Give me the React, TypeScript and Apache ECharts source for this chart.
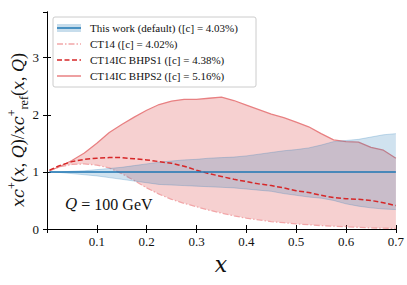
import React, { useEffect, useRef } from "react";
import * as echarts from "echarts";

const xGrid = [0.005, 0.025, 0.05, 0.075, 0.1, 0.125, 0.15, 0.175, 0.2, 0.225, 0.25, 0.275, 0.3, 0.325, 0.35, 0.375, 0.4, 0.425, 0.45, 0.475, 0.5, 0.525, 0.55, 0.575, 0.6, 0.625, 0.65, 0.675, 0.7];

const ct14 = [1.02, 1.09, 1.13, 1.14, 1.12, 1.07, 0.97, 0.85, 0.72, 0.61, 0.52, 0.45, 0.39, 0.33, 0.28, 0.23, 0.19, 0.16, 0.13, 0.11, 0.09, 0.075, 0.06, 0.05, 0.04, 0.03, 0.02, 0.015, 0.01];
const bhps2 = [1.02, 1.09, 1.2, 1.33, 1.5, 1.69, 1.83, 1.96, 2.08, 2.18, 2.24, 2.27, 2.27, 2.29, 2.31, 2.25, 2.17, 2.09, 2.01, 1.95, 1.87, 1.79, 1.67, 1.56, 1.53, 1.52, 1.43, 1.38, 1.24];
const bhps1 = [1.03, 1.11, 1.18, 1.22, 1.24, 1.25, 1.25, 1.23, 1.21, 1.18, 1.15, 1.1, 1.03, 0.97, 0.92, 0.87, 0.83, 0.79, 0.76, 0.72, 0.67, 0.64, 0.59, 0.55, 0.53, 0.52, 0.5, 0.46, 0.41];
const thisWorkUpper = [1.0, 1.0, 1.01, 1.02, 1.04, 1.06, 1.08, 1.11, 1.14, 1.17, 1.19, 1.21, 1.22, 1.24, 1.25, 1.26, 1.28, 1.31, 1.34, 1.37, 1.39, 1.42, 1.47, 1.53, 1.55, 1.57, 1.61, 1.65, 1.67];
const thisWorkLower = [1.0, 0.99, 0.97, 0.95, 0.93, 0.9, 0.87, 0.84, 0.81, 0.78, 0.77, 0.76, 0.75, 0.74, 0.73, 0.72, 0.7, 0.68, 0.66, 0.62, 0.59, 0.56, 0.54, 0.5, 0.44, 0.4, 0.37, 0.35, 0.34];
const thisWorkCentral = [1, 1, 1, 1, 1, 1, 1, 1, 1, 1, 1, 1, 1, 1, 1, 1, 1, 1, 1, 1, 1, 1, 1, 1, 1, 1, 1, 1, 1];

const xTicks = [0.1, 0.2, 0.3, 0.4, 0.5, 0.6, 0.7];
const yTicks = [0, 1, 2, 3];

const legendLabels = [
  "This work (default) ([c] = 4.03%)",
  "CT14 ([c] = 4.02%)",
  "CT14IC BHPS1 ([c] = 4.38%)",
  "CT14IC BHPS2 ([c] = 5.16%)",
];

const SERIF = "Liberation Serif";
const MATH = "DejaVu Serif";
const BLUE = "#1f77b4";
const RED = "#d62728";
const CT14_COLOR = "#f2a6a8";
const BHPS2_COLOR = "#e88082";

function pairs(ys: number[]) {
  return xGrid.map((x, i) => [x, ys[i]]);
}

function bandSeries(lo: number[], hi: number[], fill: string, z: number) {
  return {
    type: "custom",
    data: xGrid.map((x, i) => [x, lo[i], hi[i]]),
    encode: { x: 0, y: [1, 2] },
    z,
    renderItem: (params: any, api: any) => {
      if (params.dataIndex !== 0) return null;
      const pts: number[][] = [];
      for (let i = 0; i < xGrid.length; i++) pts.push(api.coord([xGrid[i], lo[i]]));
      for (let i = xGrid.length - 1; i >= 0; i--) pts.push(api.coord([xGrid[i], hi[i]]));
      return { type: "polygon", shape: { points: pts }, style: { fill, stroke: "none" } };
    },
  };
}

export default function App() {
  const ref = useRef<HTMLDivElement>(null);
  useEffect(() => {
    if (!ref.current) return;
    const chart = echarts.init(ref.current, null, { renderer: "svg" });
    const axisCommon = {
      axisLine: { show: true, lineStyle: { color: "#000", width: 1 } },
      axisTick: { show: true, inside: true, length: 4, lineStyle: { color: "#000", width: 1 } },
      splitLine: { show: false },
    };
    const legendRows = [28, 44, 60, 76];
    const lx0 = 57, lx1 = 81, tx = 90;
    const graphic: any[] = [
      {
        type: "rect",
        shape: { x: 53, y: 17, width: 203, height: 70, r: 2 },
        style: { fill: "rgba(255,255,255,0.85)", stroke: "#cccccc", lineWidth: 1 },
        z: 100,
      },
      {
        type: "rect",
        shape: { x: lx0, y: legendRows[0] - 4, width: lx1 - lx0, height: 8 },
        style: { fill: "rgba(31,119,180,0.25)" },
        z: 101,
      },
      {
        type: "line",
        shape: { x1: lx0, y1: legendRows[0], x2: lx1, y2: legendRows[0] },
        style: { stroke: BLUE, lineWidth: 1.5 },
        z: 102,
      },
      {
        type: "line",
        shape: { x1: lx0, y1: legendRows[1], x2: lx1, y2: legendRows[1] },
        style: { stroke: CT14_COLOR, lineWidth: 1.5, lineDash: [6, 2, 1.5, 2] },
        z: 102,
      },
      {
        type: "line",
        shape: { x1: lx0, y1: legendRows[2], x2: lx1, y2: legendRows[2] },
        style: { stroke: RED, lineWidth: 1.5, lineDash: [5, 2.5] },
        z: 102,
      },
      {
        type: "line",
        shape: { x1: lx0, y1: legendRows[3], x2: lx1, y2: legendRows[3] },
        style: { stroke: BHPS2_COLOR, lineWidth: 1.5 },
        z: 102,
      },
      ...legendLabels.map((t, i) => ({
        type: "text",
        x: tx,
        y: legendRows[i],
        style: {
          text: t,
          font: `11px ${SERIF}`,
          fill: "#111",
          verticalAlign: "middle",
          align: "left",
        },
        z: 103,
      })),
      {
        type: "text",
        x: 65,
        y: 204,
        style: {
          text: "{i|Q}{n| = 100 GeV}",
          verticalAlign: "middle",
          align: "left",
          rich: {
            i: { font: `italic 15px ${MATH}`, fill: "#111" },
            n: { font: `16px ${SERIF}`, fill: "#111" },
          },
        },
        z: 103,
      },
      {
        type: "text",
        x: 221,
        y: 264,
        style: {
          text: "x",
          font: `italic 22px ${MATH}`,
          fill: "#111",
          align: "center",
          verticalAlign: "middle",
        },
        z: 103,
      },
      {
        type: "text",
        x: 18,
        y: 130,
        rotation: Math.PI / 2,
        style: {
          text: "{i|xc}{sp|+}{n|(}{i|x}{n|, }{i|Q}{n|)/}{i|xc}{sp|+}{sb|ref}{n|(}{i|x}{n|, }{i|Q}{n|)}",
          align: "center",
          verticalAlign: "middle",
          rich: {
            i: { font: `italic 16px ${MATH}`, lineHeight: 24, fill: "#111" },
            n: { font: `18px ${SERIF}`, lineHeight: 24, fill: "#111" },
            sp: { font: `12px ${SERIF}`, lineHeight: 12, verticalAlign: "top", fill: "#111" },
            sb: { font: `12px ${SERIF}`, lineHeight: 12, verticalAlign: "bottom", fill: "#111" },
          },
        },
        z: 103,
      },
    ];

    chart.setOption({
      animation: false,
      grid: { left: 47, right: 11, top: 12, bottom: 56, containLabel: false },
      xAxis: [
        {
          type: "value",
          min: 0,
          max: 0.7,
          interval: 0.1,
          position: "bottom",
          ...axisCommon,
          axisLabel: {
            margin: 6,
            fontFamily: SERIF,
            fontSize: 13,
            color: "#111",
            formatter: (v: number) => {
              const hit = xTicks.find((t) => Math.abs(t - v) < 1e-6);
              return hit !== undefined ? hit.toFixed(1) : "";
            },
          },
        },
        {
          type: "value",
          min: 0,
          max: 0.7,
          interval: 0.1,
          position: "top",
          ...axisCommon,
          axisLabel: { show: false },
        },
      ],
      yAxis: [
        {
          type: "value",
          min: 0,
          max: 3.8,
          interval: 1,
          position: "left",
          ...axisCommon,
          axisLabel: {
            margin: 8,
            fontFamily: SERIF,
            fontSize: 13,
            color: "#111",
            showMaxLabel: false,
            formatter: (v: number) => {
              const hit = yTicks.find((t) => Math.abs(t - v) < 1e-6);
              return hit !== undefined ? String(hit) : "";
            },
          },
        },
        {
          type: "value",
          min: 0,
          max: 3.8,
          interval: 1,
          position: "right",
          ...axisCommon,
          axisLabel: { show: false },
        },
      ],
      graphic,
      series: [
        bandSeries(ct14, bhps2, "rgba(214,39,40,0.22)", 1),
        {
          name: "CT14",
          type: "line",
          data: pairs(ct14),
          symbol: "none",
          lineStyle: { color: CT14_COLOR, width: 1.3, type: [6, 2, 1.5, 2] },
          z: 2,
        },
        {
          name: "BHPS2",
          type: "line",
          data: pairs(bhps2),
          symbol: "none",
          lineStyle: { color: BHPS2_COLOR, width: 1.3 },
          z: 2,
        },
        bandSeries(thisWorkLower, thisWorkUpper, "rgba(31,119,180,0.21)", 3),
        {
          name: "bandLow",
          type: "line",
          data: pairs(thisWorkLower),
          symbol: "none",
          lineStyle: { color: "rgba(31,119,180,0.3)", width: 0.8 },
          z: 3,
        },
        {
          name: "bandHigh",
          type: "line",
          data: pairs(thisWorkUpper),
          symbol: "none",
          lineStyle: { color: "rgba(31,119,180,0.3)", width: 0.8 },
          z: 3,
        },
        {
          name: "BHPS1",
          type: "line",
          data: pairs(bhps1),
          symbol: "none",
          lineStyle: { color: RED, width: 1.5, type: [5, 2.5] },
          z: 4,
        },
        {
          name: "This work",
          type: "line",
          data: pairs(thisWorkCentral),
          symbol: "none",
          lineStyle: { color: BLUE, width: 1.5 },
          z: 5,
        },
      ],
    });
    return () => chart.dispose();
  }, []);
  return (
    <div
      ref={ref}
      style={{ position: "fixed", left: 0, top: 0, width: 407, height: 285, background: "#fff" }}
    />
  );
}
